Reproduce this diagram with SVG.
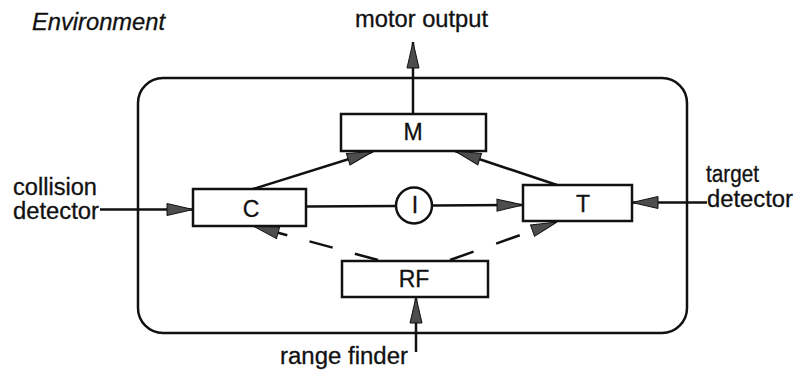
<svg xmlns="http://www.w3.org/2000/svg" width="794" height="374" viewBox="0 0 794 374">
<style>
  .box{fill:#fff;stroke:#111;stroke-width:2.5}
  .ln{fill:none;stroke:#111;stroke-width:2.5}
  .lbl{font-family:"Liberation Sans",Arial,sans-serif;font-size:23px;fill:#111;stroke:#111;stroke-width:0.3}
  .mid{text-anchor:middle}
</style>
<defs>
  <marker id="arr" markerUnits="userSpaceOnUse" markerWidth="30" markerHeight="16" refX="27" refY="7.5" orient="auto">
    <path d="M1,1.5 L27,7.5 L1,13.5 z" fill="#4d4d4d" stroke="#111" stroke-width="1"/>
  </marker>
</defs>
<rect width="794" height="374" fill="#fff"/>
<g id="environment">
  <rect x="138" y="78" width="549" height="255" rx="25" ry="25" class="ln"/>
  <text x="32" y="30" class="lbl" font-style="italic" textLength="133" lengthAdjust="spacingAndGlyphs">Environment</text>
</g>
<g id="connectors">
  <line x1="413" y1="114" x2="413" y2="42" class="ln" marker-end="url(#arr)"/>
  <line x1="100" y1="209.5" x2="193" y2="209.5" class="ln" marker-end="url(#arr)"/>
  <line x1="707" y1="202.5" x2="632" y2="202.5" class="ln" marker-end="url(#arr)"/>
  <line x1="416" y1="352" x2="416" y2="297" class="ln" marker-end="url(#arr)"/>
  <line x1="253" y1="189" x2="373" y2="151.5" class="ln" marker-end="url(#arr)"/>
  <line x1="557" y1="185" x2="455" y2="151" class="ln" marker-end="url(#arr)"/>
  <line x1="306" y1="206.5" x2="396" y2="206" class="ln"/>
  <line x1="432" y1="205.5" x2="523" y2="205" class="ln" marker-end="url(#arr)"/>
  <line x1="378" y1="260" x2="253" y2="226" class="ln" stroke-dasharray="24 23" marker-end="url(#arr)"/>
  <line x1="450" y1="260" x2="557" y2="222" class="ln" stroke-dasharray="25 24 25 100" marker-end="url(#arr)"/>
</g>
<g id="node-M">
  <rect x="341" y="114" width="145" height="37" class="box"/>
  <text x="413" y="140" class="lbl mid">M</text>
</g>
<g id="node-C">
  <rect x="193" y="189" width="113" height="37" class="box"/>
  <text x="251" y="217" class="lbl mid">C</text>
</g>
<g id="node-T">
  <rect x="523" y="185" width="109" height="36" class="box"/>
  <text x="583" y="212" class="lbl mid">T</text>
</g>
<g id="node-RF">
  <rect x="342" y="261" width="146" height="36" class="box"/>
  <text x="414" y="287" class="lbl mid">RF</text>
</g>
<g id="node-I">
  <circle cx="414" cy="205.5" r="18" class="box"/>
  <text x="415" y="213" class="lbl mid">I</text>
</g>
<g id="labels">
  <text x="355" y="27" class="lbl" textLength="133" lengthAdjust="spacingAndGlyphs">motor output</text>
  <text x="13" y="195" class="lbl" textLength="84" lengthAdjust="spacingAndGlyphs">collision</text>
  <text x="13" y="219" class="lbl" textLength="86" lengthAdjust="spacingAndGlyphs">detector</text>
  <text x="706" y="182" class="lbl" textLength="53" lengthAdjust="spacingAndGlyphs">target</text>
  <text x="707" y="207" class="lbl" textLength="86" lengthAdjust="spacingAndGlyphs">detector</text>
  <text x="280" y="364" class="lbl" textLength="128" lengthAdjust="spacingAndGlyphs">range finder</text>
</g>
</svg>
